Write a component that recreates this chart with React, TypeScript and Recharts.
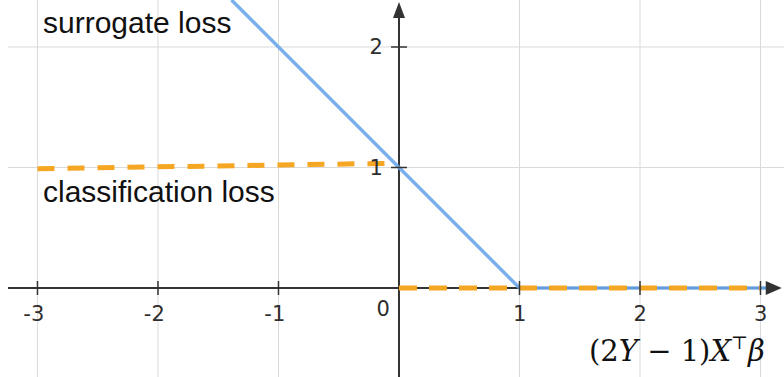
import { LineChart, Line, XAxis, YAxis, ReferenceLine, ReferenceDot } from "recharts"

// values
const surrogateX = [-1.39, 1, 3.12]
const surrogateY = [2.39, 0, 0]
const classLeftX = [-3, -0.05]
const classLeftY = [0.99, 1.035]
const classRightX = [0, 3]
const classRightY = [0, 0]

const xTicks = [-3, -2, -1, 1, 2, 3]
const yTicks = [1, 2]
const xTickLabels = ["-3", "-2", "-1", "1", "2", "3"]
const yTickLabels = ["1", "2"]

const X_DOMAIN: [number, number] = [-3.311, 3.195]
const Y_DOMAIN: [number, number] = [-0.7386, 2.39]

const zip = (xs: number[], ys: number[]) => xs.map((x, i) => ({ x, y: ys[i] }))

const surrogate = zip(surrogateX, surrogateY)
const classLeft = zip(classLeftX, classLeftY)
const classRight = zip(classRightX, classRightY)

const AXIS = "#333333"
const GRID = "#dadada"
const BLUE = "#6aa6ea"
const ORANGE = "#f5a623"
const tickFont = { fontFamily: "DejaVu Sans, Verdana, sans-serif", fontSize: 21, fill: "#2e2e2e" }

export default function App() {
  return (
    <div style={{ position: "absolute", left: 0, top: 0, width: 784, height: 377, background: "#fff" }}>
      <LineChart width={784} height={377} margin={{ top: 0, right: 0, bottom: 0, left: 0 }}>
        <XAxis type="number" dataKey="x" domain={X_DOMAIN} allowDataOverflow hide />
        <YAxis type="number" dataKey="y" domain={Y_DOMAIN} allowDataOverflow hide />

        {xTicks.map((v) => (
          <ReferenceLine key={"gx" + v} x={v} stroke={GRID} strokeWidth={1} />
        ))}
        {yTicks.map((v) => (
          <ReferenceLine
            key={"gy" + v}
            segment={[{ x: -3.245, y: v }, { x: X_DOMAIN[1], y: v }]}
            stroke={GRID}
            strokeWidth={1}
          />
        ))}

        {/* axes */}
        <ReferenceLine segment={[{ x: -3.245, y: 0 }, { x: 3.1, y: 0 }]} stroke={AXIS} strokeWidth={2} />
        <ReferenceLine segment={[{ x: 0, y: Y_DOMAIN[0] }, { x: 0, y: 2.3 }]} stroke={AXIS} strokeWidth={2} />
        <ReferenceDot
          x={3.11}
          y={0}
          ifOverflow="visible"
          shape={(p: any) => (
            <polygon points={`${p.cx - 8},${p.cy - 7} ${p.cx + 8},${p.cy} ${p.cx - 8},${p.cy + 7}`} fill={AXIS} />
          )}
        />
        <ReferenceDot
          x={0}
          y={2.308}
          ifOverflow="visible"
          shape={(p: any) => (
            <polygon points={`${p.cx - 6},${p.cy + 8} ${p.cx},${p.cy - 8} ${p.cx + 6},${p.cy + 8}`} fill={AXIS} />
          )}
        />

        {xTicks.map((v, i) => (
          <ReferenceDot
            key={"tx" + v}
            x={v}
            y={0}
            shape={(p: any) => (
              <g>
                <line x1={p.cx} x2={p.cx} y1={p.cy - 7} y2={p.cy + 7} stroke={AXIS} strokeWidth={1.5} />
                <text x={p.cx + 6.8} y={p.cy + 33} textAnchor="end" {...tickFont}>
                  {xTickLabels[i]}
                </text>
              </g>
            )}
          />
        ))}
        {yTicks.map((v, i) => (
          <ReferenceDot
            key={"ty" + v}
            x={0}
            y={v}
            shape={(p: any) => (
              <g>
                <line x1={p.cx - 8} x2={p.cx + 8} y1={p.cy} y2={p.cy} stroke={AXIS} strokeWidth={1.5} />
                <text x={p.cx - 16} y={p.cy + 7.5} textAnchor="end" {...tickFont}>
                  {yTickLabels[i]}
                </text>
              </g>
            )}
          />
        ))}
        <ReferenceDot
          x={0}
          y={0}
          shape={(p: any) => (
            <text x={p.cx - 9} y={p.cy + 28} textAnchor="end" {...tickFont}>
              0
            </text>
          )}
        />

        <Line
          data={surrogate}
          dataKey="y"
          type="linear"
          stroke={BLUE}
          strokeOpacity={0.9}
          strokeWidth={3.5}
          dot={false}
          activeDot={false}
          isAnimationActive={false}
        />
        <Line
          data={classLeft}
          dataKey="y"
          type="linear"
          stroke={ORANGE}
          strokeWidth={5}
          strokeDasharray="17 13"
          dot={false}
          activeDot={false}
          isAnimationActive={false}
        />
        <Line
          data={classRight}
          dataKey="y"
          type="linear"
          stroke={ORANGE}
          strokeWidth={5}
          strokeDasharray="18 12"
          dot={false}
          activeDot={false}
          isAnimationActive={false}
        />
      </LineChart>

      <svg width={784} height={377} style={{ position: "absolute", left: 0, top: 0, pointerEvents: "none" }}>
        <g fontFamily="Liberation Sans, Arial, sans-serif" fontSize={30} fill="#111">
          <text x={43} y={33}>surrogate loss</text>
          <text x={43} y={202}>classification loss</text>
        </g>
        <text x={589} y={361} fontFamily="DejaVu Serif, serif" fontSize={29} fill="#111">
          <tspan>(2</tspan>
          <tspan fontStyle="italic">Y</tspan>
          <tspan> − 1)</tspan>
          <tspan fontStyle="italic">X</tspan>
          <tspan fontSize={18} dy={-12}>⊤</tspan>
          <tspan fontStyle="italic" dy={12}>β</tspan>
        </text>
      </svg>
    </div>
  )
}
